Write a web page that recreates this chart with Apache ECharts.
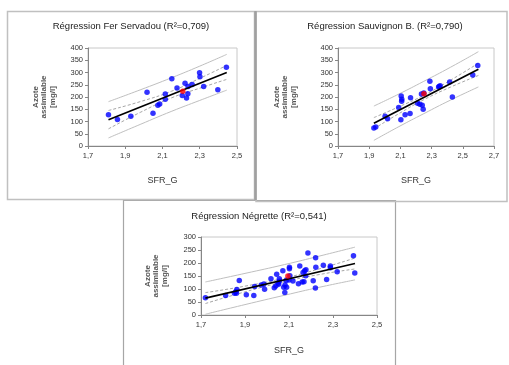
<!DOCTYPE html>
<html><head><meta charset="utf-8">
<script src="https://cdn.jsdelivr.net/npm/echarts@6/dist/echarts.min.js"></script>
<style>html,body{margin:0;padding:0;background:#fff}#c{width:509px;height:365px}</style>
</head><body><div id="c"></div>
<script>
// ---------- Data ----------
const titles = ['Régression Fer Servadou (R²=0,709)', 'Régression Sauvignon B. (R²=0,790)', 'Régression Négrette (R²=0,541)'];
const xName = 'SFR_G';
const yName = 'Azote\nassimilable\n[mg/l]';

// Fer Servadou
const fsPoints = [[1.81,128],[1.858,108],[1.93,121],[2.017,219],[2.049,134],[2.075,166],[2.085,171],[2.115,212],[2.115,191],[2.15,275],[2.178,237],[2.206,206],[2.221,256],[2.229,196],[2.236,213],[2.237,243],[2.259,251],[2.299,299],[2.301,283],[2.321,243],[2.397,230],[2.443,321]];
const fsMean = [[2.209,223]];
const fsLine = [[1.81,107],[2.445,300]];
const fsBandX = [1.81, 1.98, 2.15, 2.30, 2.445];
const fsConfUp = [145, 181, 224, 276, 329];
const fsConfLo = [70, 137, 197, 236, 272];
const fsPredUp = [181, 229, 279, 326, 374];
const fsPredLo = [33, 88, 142, 186, 228];

// Sauvignon B.
const sbPoints = [[1.93,73],[1.942,78],[2.002,121],[2.018,111],[2.089,157],[2.103,107],[2.105,204],[2.109,191],[2.108,183],[2.13,128],[2.162,133],[2.165,197],[2.21,174],[2.225,170],[2.235,212],[2.24,166],[2.246,150],[2.25,216],[2.289,264],[2.292,234],[2.345,241],[2.355,246],[2.349,243],[2.416,261],[2.433,200],[2.564,290],[2.596,329]];
const sbMean = [[2.251,213]];
const sbLine = [[1.93,93],[2.60,313]];
const sbBandX = [1.93, 2.09, 2.25, 2.42, 2.60];
const sbConfUp = [116, 160, 207, 268, 338];
const sbConfLo = [70, 132, 189, 240, 288];
const sbPredUp = [163, 212, 264, 321, 385];
const sbPredLo = [23, 79, 132, 187, 241];

// Négrette
const ngPoints = [[1.72,66],[1.812,75],[1.852,84],[1.858,89],[1.861,84],[1.863,98],[1.874,133],[1.906,78],[1.94,75],[1.944,110],[1.974,115],[1.986,119],[1.989,99],[2.018,139],[2.033,105],[2.04,112],[2.044,157],[2.05,122],[2.053,118],[2.056,130],[2.056,139],[2.072,170],[2.076,107],[2.082,115],[2.081,87],[2.087,133],[2.089,107],[2.1,135],[2.102,178],[2.102,184],[2.104,151],[2.118,131],[2.143,120],[2.149,188],[2.16,127],[2.164,163],[2.171,170],[2.168,128],[2.177,174],[2.176,151],[2.186,238],[2.21,132],[2.221,220],[2.222,184],[2.22,104],[2.256,191],[2.271,137],[2.288,188],[2.288,182],[2.319,166],[2.393,228],[2.399,162]];
const ngMean = [[2.095,150]];
const ngLine = [[1.72,65],[2.40,198]];
const ngBandX = [1.72, 1.90, 2.08, 2.24, 2.40];
const ngConfUp = [86, 111, 142, 178, 219];
const ngConfLo = [44, 89, 128, 156, 177];
const ngPredUp = [127, 160, 194, 227, 261];
const ngPredLo = [3, 40, 76, 107, 135];

// Axis ranges
const xMin = [1.7, 1.7, 1.7], xMax = [2.5, 2.7, 2.5], xStep = 0.2;
const yMax = [400, 400, 300], yStep = 50;

// ---------- Chart ----------
const FONT = 'Liberation Sans';
const zip = (xs, ys) => xs.map((x, i) => [x, ys[i]]);
const grids = [
  {left: 88, top: 48, width: 149, height: 98},
  {left: 338, top: 48, width: 156, height: 98},
  {left: 201, top: 237, width: 176, height: 78}
];
const yNameGaps = [31, 40, 32];
const xNameGaps = [30, 30, 31];
const sets = [
  {pts: fsPoints, mean: fsMean, line: fsLine, bx: fsBandX, cu: fsConfUp, cl: fsConfLo, pu: fsPredUp, pl: fsPredLo},
  {pts: sbPoints, mean: sbMean, line: sbLine, bx: sbBandX, cu: sbConfUp, cl: sbConfLo, pu: sbPredUp, pl: sbPredLo},
  {pts: ngPoints, mean: ngMean, line: ngLine, bx: ngBandX, cu: ngConfUp, cl: ngConfLo, pu: ngPredUp, pl: ngPredLo}
];

const series = [];
sets.forEach((s, i) => {
  const base = {xAxisIndex: i, yAxisIndex: i, silent: true, animation: false};
  const band = (d, color, type) => Object.assign({}, base, {type: 'line', data: zip(s.bx, d), smooth: 0.5, symbol: 'none', lineStyle: {color: color, width: 1, type: type}, z: 2});
  series.push(band(s.pu, '#bfbfbf', 'solid'));
  series.push(band(s.pl, '#bfbfbf', 'solid'));
  series.push(band(s.cu, '#a6a6a6', [3, 2]));
  series.push(band(s.cl, '#a6a6a6', [3, 2]));
  series.push(Object.assign({}, base, {type: 'scatter', data: s.pts, symbolSize: 5.5, itemStyle: {color: '#0000ff'}, z: 3}));
  series.push(Object.assign({}, base, {type: 'line', data: s.line, symbol: 'none', lineStyle: {color: '#000', width: 1.7}, z: 4}));
  series.push(Object.assign({}, base, {type: 'scatter', data: s.mean, symbolSize: 5.5, itemStyle: {color: '#ff0000'}, z: 5}));
});

const axisCommonX = (i) => ({
  type: 'value', gridIndex: i, min: xMin[i], max: xMax[i], interval: xStep,
  name: xName, nameLocation: 'middle', nameGap: xNameGaps[i],
  nameTextStyle: {fontFamily: FONT, fontSize: 9, color: '#333'},
  axisLine: {show: true, lineStyle: {color: '#868686', width: 1}},
  axisTick: {show: true, length: 3, lineStyle: {color: '#868686'}},
  axisLabel: {fontFamily: FONT, fontSize: 7.5, color: '#333', margin: 6, formatter: v => v.toFixed(1).replace('.', ',')},
  splitLine: {show: false}
});
const axisCommonY = (i) => ({
  type: 'value', gridIndex: i, min: 0, max: yMax[i], interval: yStep,
  name: yName, nameLocation: 'middle', nameRotate: 90, nameGap: yNameGaps[i],
  nameTextStyle: {fontFamily: FONT, fontSize: 8, fontWeight: 'bold', color: '#555', lineHeight: 8.5},
  axisLine: {show: true, lineStyle: {color: '#868686', width: 1}},
  axisTick: {show: true, length: 3, lineStyle: {color: '#868686'}},
  axisLabel: {fontFamily: FONT, fontSize: 7.5, color: '#333', margin: 5},
  splitLine: {show: false}
});

const chart = echarts.init(document.getElementById('c'), null, {renderer: 'canvas'});
chart.setOption({
  backgroundColor: '#fff',
  animation: false,
  title: [
    {text: titles[0], left: 131, top: 21, textAlign: 'center'},
    {text: titles[1], left: 385, top: 21, textAlign: 'center'},
    {text: titles[2], left: 259, top: 211, textAlign: 'center'}
  ].map(t => Object.assign(t, {padding: 0, textStyle: {fontFamily: FONT, fontSize: 9.5, fontWeight: 'normal', color: '#222'}})),
  grid: grids.map(g => Object.assign({}, g, {show: true, borderColor: '#c8c8c8', borderWidth: 1, backgroundColor: 'transparent'})),
  xAxis: [0, 1, 2].map(axisCommonX),
  yAxis: [0, 1, 2].map(axisCommonY),
  series: series,
  graphic: [
    {type: 'rect', shape: {x: 7.5, y: 11.5, width: 247, height: 188}, style: {fill: 'none', stroke: '#c0c0c0', lineWidth: 1.5}, silent: true},
    {type: 'rect', shape: {x: 256, y: 11.5, width: 251, height: 190}, style: {fill: 'none', stroke: '#c0c0c0', lineWidth: 1.5}, silent: true},
    {type: 'line', shape: {x1: 255.5, y1: 11, x2: 255.5, y2: 200}, style: {stroke: '#a0a0a0', lineWidth: 2.5}, silent: true},
    {type: 'rect', shape: {x: 123.5, y: 200.5, width: 272, height: 180}, style: {fill: '#fff', stroke: '#a6a6a6', lineWidth: 1.2}, silent: true, z: -1}
  ]
});
</script></body></html>
